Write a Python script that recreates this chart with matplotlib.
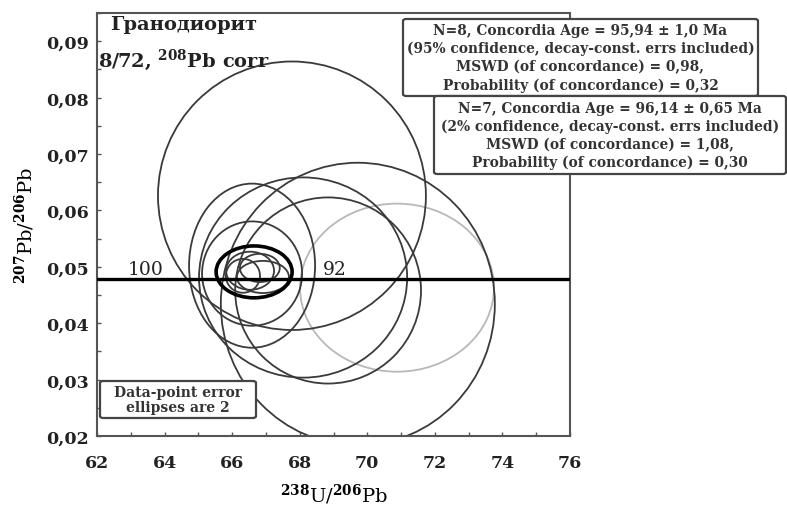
import numpy as np
import matplotlib
matplotlib.use("Agg")
import matplotlib.pyplot as plt
from matplotlib.patches import Ellipse, FancyBboxPatch

plt.rcParams['font.family'] = ['DejaVu Serif']
plt.rcParams['font.weight'] = 'bold'
plt.rcParams['mathtext.fontset'] = 'custom'
plt.rcParams['mathtext.rm'] = 'DejaVu Serif:bold'
plt.rcParams['mathtext.it'] = 'DejaVu Serif:bold'
plt.rcParams['mathtext.bf'] = 'DejaVu Serif:bold'

# data-point error ellipses (238U/206Pb, 207Pb/206Pb), full widths
ell_x = [67.77, 69.72, 68.10, 68.84, 66.59, 66.59, 66.53, 66.82, 66.32, 66.91]
ell_y = [0.0626, 0.0434, 0.0481, 0.0458, 0.0502, 0.0488, 0.0493, 0.0498, 0.0484, 0.0482]
ell_w = [7.93, 8.11, 6.16, 5.50, 3.73, 2.96, 1.42, 1.18, 1.01, 1.54]
ell_h = [0.0476, 0.0501, 0.0355, 0.0330, 0.0291, 0.0185, 0.00675, 0.0050, 0.0060, 0.0057]

# rejected analysis (light grey)
grey_x, grey_y, grey_w, grey_h = 70.88, 0.0463, 5.74, 0.0298

# concordia age ellipse
age_x, age_y, age_w, age_h = 66.65, 0.0491, 2.25, 0.0092

# concordia
conc_x = [62.0, 76.0]
conc_y = [0.0478, 0.0478]
age_labels = ['100', '92']
age_label_x = [63.97, 69.57]
age_label_y = [0.0478, 0.0478]

xticks = [62, 64, 66, 68, 70, 72, 74, 76]
yticks = [0.02, 0.03, 0.04, 0.05, 0.06, 0.07, 0.08, 0.09]
ytick_labels = ['0,02', '0,03', '0,04', '0,05', '0,06', '0,07', '0,08', '0,09']

box1_lines = ['N=8, Concordia Age = 95,94 \u00b1 1,0 Ma',
              '(95% confidence, decay-const. errs included)',
              'MSWD (of concordance) = 0,98,',
              'Probability (of concordance) = 0,32']
box2_lines = ['N=7, Concordia Age = 96,14 \u00b1 0,65 Ma',
              '(2% confidence, decay-const. errs included)',
              'MSWD (of concordance) = 1,08,',
              'Probability (of concordance) = 0,30']

W, H = 787, 506
fig = plt.figure(figsize=(W / 100, H / 100), dpi=100)
ax = fig.add_axes([97 / W, 1 - 437 / H, 473 / W, 423 / H])

for x, y, w, h in zip(ell_x, ell_y, ell_w, ell_h):
    ax.add_patch(Ellipse((x, y), w, h, fill=False, ec='#3a3a3a', lw=1.3, zorder=2))
ax.add_patch(Ellipse((grey_x, grey_y), grey_w, grey_h, fill=False, ec='#b8b8b8', lw=1.3, zorder=1))
ax.add_patch(Ellipse((age_x, age_y), age_w, age_h, fill=False, ec='black', lw=2.6, zorder=4))

ax.plot(conc_x, conc_y, color='black', lw=2.4, zorder=3)
for lab, x, y in zip(age_labels, age_label_x, age_label_y):
    ax.annotate(lab, (x, y), xytext=(-13, 1), textcoords='offset points',
                ha='center', va='bottom', fontsize=13.5, fontweight='normal',
                color='#222222')

ax.set_xlim(62, 76)
ax.set_ylim(0.02, 0.095)
ax.set_xticks(xticks)
ax.set_xticks(np.arange(62, 77, 1), minor=True)
ax.set_yticks(yticks)
ax.set_yticklabels(ytick_labels)
ax.set_yticks(np.arange(0.02, 0.0951, 0.005), minor=True)
ax.tick_params(which='both', direction='in', length=3, width=1, colors='#555555',
               labelcolor='#222222', labelsize=12.5)
ax.tick_params(axis='x', pad=13)
ax.tick_params(axis='y', pad=6)
for s in ax.spines.values():
    s.set_color('#555555')
    s.set_linewidth(1.5)

ax.set_xlabel('$^{238}$U/$^{206}$Pb', fontsize=14, labelpad=8)
ax.set_ylabel('$^{207}$Pb/$^{206}$Pb', fontsize=14, labelpad=6)

fig.text(110 / W, 1 - 25 / H, 'Гранодиорит', fontsize=14, va='center', ha='left', color='#222222')
fig.text(98 / W, 1 - 60 / H, '8/72, $^{208}$Pb corr', fontsize=14, va='center', ha='left', color='#222222')


def text_box(x0, y0, x1, y1, lines, size, spacing):
    fig.patches.append(FancyBboxPatch((x0 / W, 1 - y1 / H), (x1 - x0) / W, (y1 - y0) / H,
                                      boxstyle='round,pad=0,rounding_size=0.004',
                                      transform=fig.transFigure, fc='white',
                                      ec='#444444', lw=1.6, zorder=5))
    fig.text((x0 + x1) / 2 / W, 1 - (y0 + y1) / 2 / H, '\n'.join(lines), fontsize=size,
             ha='center', va='center', linespacing=spacing, color='#333333', zorder=6)


text_box(403, 20, 758, 97, box1_lines, 9.9, 1.35)
text_box(434, 97, 786, 175, box2_lines, 9.9, 1.35)
text_box(100, 382, 256, 419, ['Data-point error', 'ellipses are 2'], 10, 1.15)

fig.savefig('out.png', dpi=100)
